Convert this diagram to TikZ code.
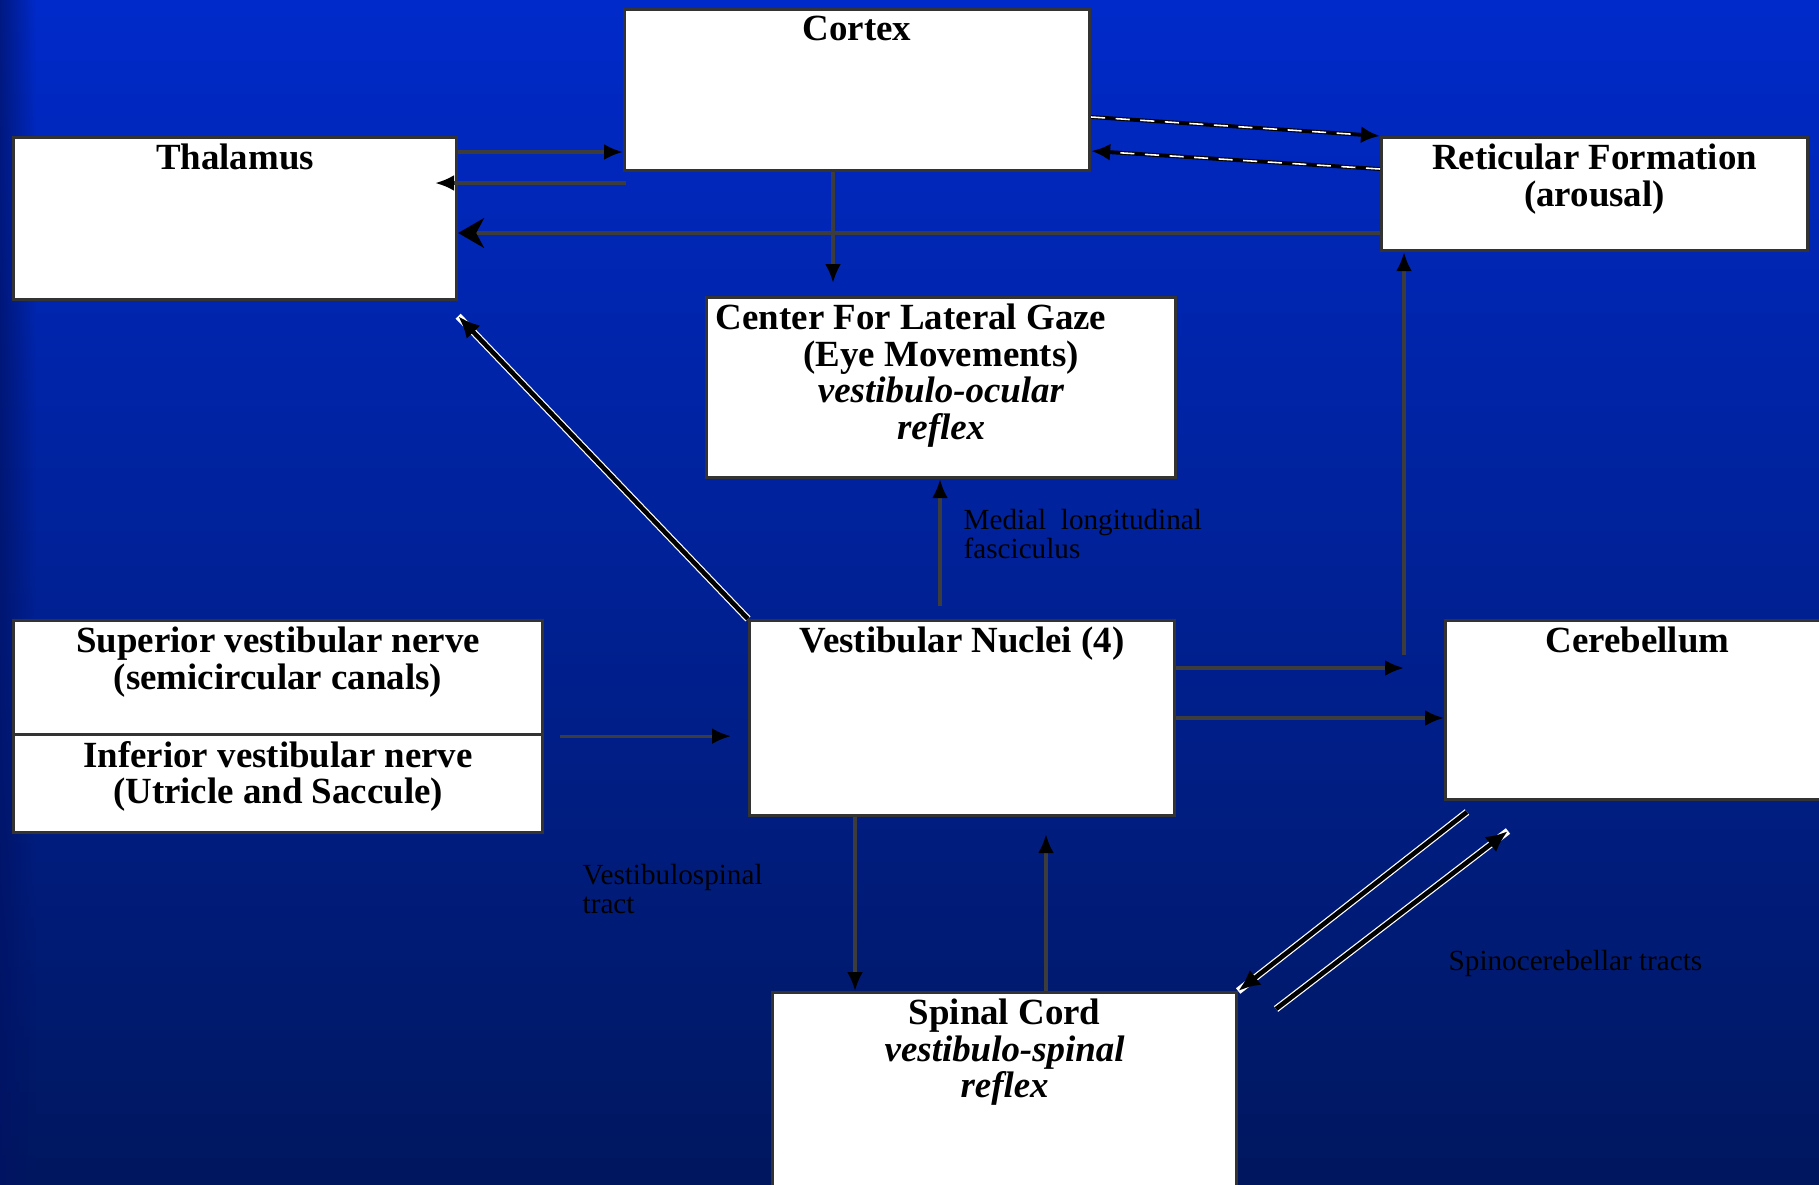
\documentclass[tikz,border=0pt]{standalone}
\usepackage{fontspec}
\setmainfont{Liberation Serif}
\usetikzlibrary{arrows.meta,fadings}

\definecolor{bgtop}{RGB}{0,42,202}
\definecolor{bgmid}{RGB}{0,38,168}
\definecolor{bgbot}{RGB}{0,23,94}
\definecolor{bgedge}{RGB}{0,18,100}
\definecolor{wire}{RGB}{60,60,60}

\begin{document}
\begin{tikzpicture}
[
    x=0.1mm, y=-0.1mm,
    box/.style={draw=black!80, line width=0.9pt, fill=white, anchor=north west, inner sep=0pt},
    title/.style={anchor=north, font=\bfseries\fontsize{10.5}{10.4}\selectfont, align=center, inner sep=1pt, yshift=-0.4mm},
    note/.style={anchor=north west, font=\fontsize{8.3}{8}\selectfont, align=left, inner sep=0pt},
    arr/.style={draw=wire, line width=0.9pt, -{Latex[length=1.9mm,width=1.6mm,color=black]}},
    bigarr/.style={draw=wire, line width=0.9pt, -{Stealth[length=2.6mm,width=3mm,inset=0.8mm,color=black]}},
    tract/.style={draw=black, line width=1.3pt, preaction={draw=white, line width=2pt, -}, -{Latex[length=2.2mm,width=1.9mm]}},
    dline/.style={draw=black, line width=1.1pt, postaction={draw=white, line width=0.45pt, dash pattern=on 4pt off 3pt, shorten >=2mm, -}, -{Latex[length=1.9mm,width=1.7mm]}},
]
\useasboundingbox (0,0) rectangle (1819,1185);
\clip (0,0) rectangle (1819,1185);

% background
\shade[top color=bgtop, middle color=bgmid, bottom color=bgbot] (0,0) rectangle (1819,1185);
\fill[bgedge, opacity=0.7, path fading=east] (0,0) rectangle (36,1185);

% boxes
\node[box, minimum width=46.5mm, minimum height=16.1mm] (cortex) at (623,8) {};
\node[box, minimum width=44.3mm, minimum height=16.2mm] (thal) at (12,136) {};
\node[box, minimum width=42.6mm, minimum height=11.3mm] (retic) at (1380,136) {};
\node[box, minimum width=46.9mm, minimum height=18mm] (gaze) at (705,296) {};
\node[box, minimum width=42.5mm, minimum height=19.5mm] (vn) at (748,619) {};
\node[box, minimum width=38.4mm, minimum height=17.9mm] (cereb) at (1444,619) {};
\node[box, minimum width=52.9mm, minimum height=11.4mm] (sup) at (12,619) {};
\node[box, minimum width=52.9mm, minimum height=9.8mm] (inf) at (12,733) {};
\node[box, minimum width=46.4mm, minimum height=25mm] (spinal) at (771,991) {};

% box texts
\node[title] (cortexT) at (cortex.north) {Cortex};
\node[title] (thalT) at (thal.north) {Thalamus};
\node[title] (reticT) at (retic.north) {Reticular Formation\\(arousal)};
\node[title] (gazeT) at (gaze.north) {Center For Lateral Gaze\hspace*{6mm}\\(Eye Movements)\\\textit{vestibulo-ocular}\\\textit{reflex}};
\node[title] (vnT) at (vn.north) {Vestibular Nuclei (4)};
\node[title] (cerebT) at (cereb.north) {Cerebellum};
\node[title] (supT) at (sup.north) {Superior vestibular nerve\\(semicircular canals)};
\node[title] (infT) at (inf.north) {Inferior vestibular nerve\\(Utricle and Saccule)};
\node[title] (spinalT) at (spinal.north) {Spinal Cord\\\textit{vestibulo-spinal}\\\textit{reflex}};

% tract labels
\node[note] (mlf) at (963,509) {Medial~~longitudinal\\fasciculus};
\node[note] (vst) at (582,864) {Vestibulospinal\\tract};
\node[note] (sct) at (1448,950) {Spinocerebellar tracts};

% connectors
\coordinate (ct) at (626,183);
\coordinate (thalIn) at ([yshift=-1.5mm]thal.south east);
\coordinate (rv) at ([xshift=2.4mm]retic.south west);
\coordinate (cbOut) at (1467,812);
\coordinate (scOut) at (1276,1009);
\coordinate (cbIn) at (1508,831);

\draw[arr] (thal.east |- 0,152) -- (cortex.west |- 0,152);
\draw[arr, shorten >=-2.3mm] (ct) -- (thal.east |- ct);
\draw[bigarr] (retic.west |- 0,233) -- (thal.east |- 0,233);
\draw[arr, shorten >=1.3mm] (cortex.south -| 833,0) -- (gaze.north -| 833,0);
\draw[dline] (cortex.east |- 0,117) -- (retic.north west);
\draw[dline] (retic.west |- 0,169) -- (cortex.east |- 0,151);
\draw[arr, shorten <=1.3mm] (vn.north -| 940,0) -- (gaze.south -| 940,0);
\draw[tract] (vn.north west) -- (thalIn);
\draw[arr] (vn.east |- 0,668) -- (rv |- 0,668);
\draw[arr, shorten <=1.3mm] (rv |- 0,668) -- (rv);
\draw[arr] (vn.east |- 0,718) -- (cereb.west |- 0,718);
\draw[arr, shorten <=1.6mm, shorten >=1.7mm] (sup.south east) -- (vn.west |- sup.south east);
\draw[arr] (vn.south -| 855,0) -- (spinal.north -| 855,0);
\draw[arr, shorten >=1.7mm] (spinal.north -| 1046,0) -- (vn.south -| 1046,0);
\draw[tract] (cbOut) -- (spinal.north east);
\draw[tract] (scOut) -- (cbIn);
\end{tikzpicture}
\end{document}
